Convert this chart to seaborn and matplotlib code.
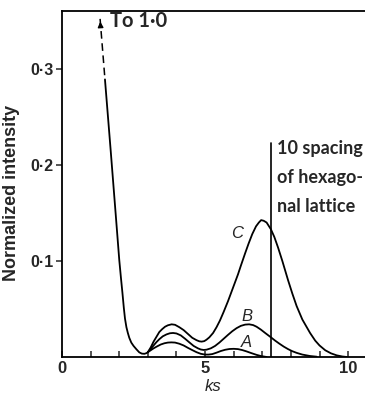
import matplotlib
matplotlib.use("Agg")
import matplotlib.pyplot as plt
import seaborn as sns
import pandas as pd

# ---- data ----
dash_x = [1.33, 1.50]
dash_y = [0.352, 0.289]

common_x = [1.50, 1.70, 1.89, 2.00, 2.06, 2.11, 2.16, 2.20, 2.25, 2.30, 2.35, 2.42,
            2.50, 2.60, 2.70, 2.79, 2.88, 2.95, 3.00]
common_y = [0.289, 0.215, 0.143, 0.101, 0.082, 0.067, 0.051, 0.040, 0.031, 0.025, 0.020, 0.015,
            0.0115, 0.008, 0.0048, 0.0035, 0.0033, 0.004, 0.005]

c_x = [3.00, 3.10, 3.20, 3.30, 3.40, 3.50, 3.60, 3.70, 3.83, 3.95, 4.10, 4.25, 4.40, 4.55,
       4.70, 4.80, 4.88, 4.97, 5.05, 5.15, 5.28, 5.40, 5.52, 5.65, 5.80, 5.95, 6.05, 6.15,
       6.25, 6.40, 6.52, 6.65, 6.78, 6.88, 6.96, 7.05, 7.15, 7.30, 7.42, 7.55, 7.70, 7.90,
       8.05, 8.20, 8.40, 8.67, 8.85, 9.00, 9.20, 9.40, 9.60, 9.80, 9.95]
c_y = [0.005, 0.010, 0.016, 0.021, 0.026, 0.029, 0.0315, 0.033, 0.034, 0.0335, 0.031, 0.028,
       0.024, 0.020, 0.0175, 0.0163, 0.016, 0.0165, 0.018, 0.0205, 0.025, 0.031, 0.038, 0.047,
       0.058, 0.070, 0.078, 0.086, 0.095, 0.108, 0.118, 0.128, 0.136, 0.140, 0.1425, 0.1418,
       0.140, 0.133, 0.125, 0.114, 0.100, 0.080, 0.066, 0.053, 0.039, 0.025, 0.017, 0.012,
       0.007, 0.0038, 0.0017, 0.0005, 0.0]

b_x = [3.00, 3.10, 3.20, 3.30, 3.40, 3.52, 3.65, 3.77, 3.88, 4.00, 4.15, 4.30, 4.45, 4.60,
       4.75, 4.85, 4.95, 5.05, 5.20, 5.35, 5.50, 5.65, 5.80, 5.95, 6.10, 6.25, 6.40, 6.54,
       6.68, 6.80, 6.95, 7.10, 7.30, 7.45, 7.60, 7.75, 7.90, 8.05, 8.20, 8.40, 8.67, 8.90]
b_y = [0.005, 0.0085, 0.012, 0.0155, 0.0185, 0.0215, 0.0235, 0.0247, 0.025, 0.0245, 0.0225,
       0.019, 0.0152, 0.0115, 0.009, 0.0078, 0.0073, 0.0076, 0.009, 0.0115, 0.015, 0.019,
       0.023, 0.0268, 0.030, 0.0324, 0.0337, 0.034, 0.0332, 0.0315, 0.0285, 0.025, 0.0205,
       0.017, 0.0138, 0.0108, 0.0082, 0.006, 0.0043, 0.0025, 0.001, 0.0003]

a_x = [3.00, 3.10, 3.20, 3.32, 3.45, 3.58, 3.70, 3.82, 3.95, 4.10, 4.25, 4.40, 4.55, 4.70,
       4.85, 5.00, 5.12, 5.25, 5.40, 5.55, 5.70, 5.85, 6.00, 6.15, 6.30, 6.45, 6.60, 6.80,
       6.95, 7.15]
a_y = [0.005, 0.007, 0.009, 0.011, 0.013, 0.0143, 0.0150, 0.0152, 0.015, 0.0138, 0.012,
       0.0095, 0.0072, 0.005, 0.0033, 0.0025, 0.0025, 0.003, 0.0045, 0.0062, 0.0075, 0.0083,
       0.0085, 0.0082, 0.0072, 0.0058, 0.0042, 0.0022, 0.001, 0.0]

spacing_x = [7.3, 7.3]
spacing_y = [0.0, 0.223]

curve_labels = ["C", "B", "A"]
label_x = [6.12, 6.46, 6.46]
label_y = [0.129, 0.042, 0.0146]

x_major = [0, 5, 10]
x_major_labels = ["0", "5", "10"]
x_minor = [1, 2, 3, 4, 6, 7, 8, 9]
y_ticks = [0.1, 0.2, 0.3]
y_tick_labels = ["0·1", "0·2", "0·3"]

# ---- plot ----
sns.set_theme(style="ticks")
plt.rcParams["font.family"] = ["Liberation Sans", "DejaVu Sans"]

fig = plt.figure(figsize=(3.65, 3.97), dpi=100)
ax = fig.add_axes([0.170, 0.1008, 0.830, 0.871])

def draw(xs, ys, **kw):
    df = pd.DataFrame({"x": xs, "y": ys})
    sns.lineplot(data=df, x="x", y="y", ax=ax, sort=False, estimator=None,
                 color="black", **kw)

draw(dash_x, dash_y, linewidth=1.1, linestyle=(0, (5, 3)))
draw(common_x, common_y, linewidth=1.3)
draw(c_x, c_y, linewidth=1.3)
draw(b_x, b_y, linewidth=1.3)
draw(a_x, a_y, linewidth=1.3)
draw(spacing_x, spacing_y, linewidth=1.2)

ax.annotate("", xy=(dash_x[0], dash_y[0]), xytext=(dash_x[0] + 0.02, dash_y[0] - 0.01),
            arrowprops=dict(arrowstyle="-|>", color="black", lw=1.0, mutation_scale=8))

ax.text(1.68, 0.350, "To 1·0", fontsize=14.5, fontweight="bold", va="center", ha="left",
        family=["Lato", "DejaVu Sans"])
ax.text(7.5, 0.226, "10 spacing\nof hexago-\nnal lattice", fontsize=13, va="top",
        ha="left", linespacing=1.85, fontweight="bold", family=["Lato", "DejaVu Sans"])

for lab, lx, ly in zip(curve_labels, label_x, label_y):
    ax.text(lx, ly, lab, fontsize=12, fontstyle="italic", ha="center", va="center")

ax.set_xlim(0, 10.59)
ax.set_ylim(0, 0.36)
ax.set_xticks(x_major)
ax.set_xticklabels(x_major_labels, fontsize=12, fontweight="bold")
ax.set_xticks(x_minor, minor=True)
ax.set_yticks(y_ticks)
ax.set_yticklabels(y_tick_labels, fontsize=11.5, fontweight="bold")
ax.tick_params(axis="x", which="both", direction="in", length=4, width=1.1, pad=3)
ax.tick_params(axis="y", direction="out", length=4, width=1.1, pad=2)
ax.set_xlabel("ks", fontsize=12, fontstyle="italic", labelpad=2)
ax.set_ylabel("Normalized intensity", fontsize=13, fontweight="bold")
ax.yaxis.set_label_coords(-0.14, 0.474)

for s in ["left", "bottom", "top"]:
    ax.spines[s].set_visible(True)
    ax.spines[s].set_linewidth(1.3)
    ax.spines[s].set_color("black")
ax.spines["right"].set_visible(False)
ax.set_facecolor("white")
fig.patch.set_facecolor("white")

fig.savefig("out.png", dpi=100)
